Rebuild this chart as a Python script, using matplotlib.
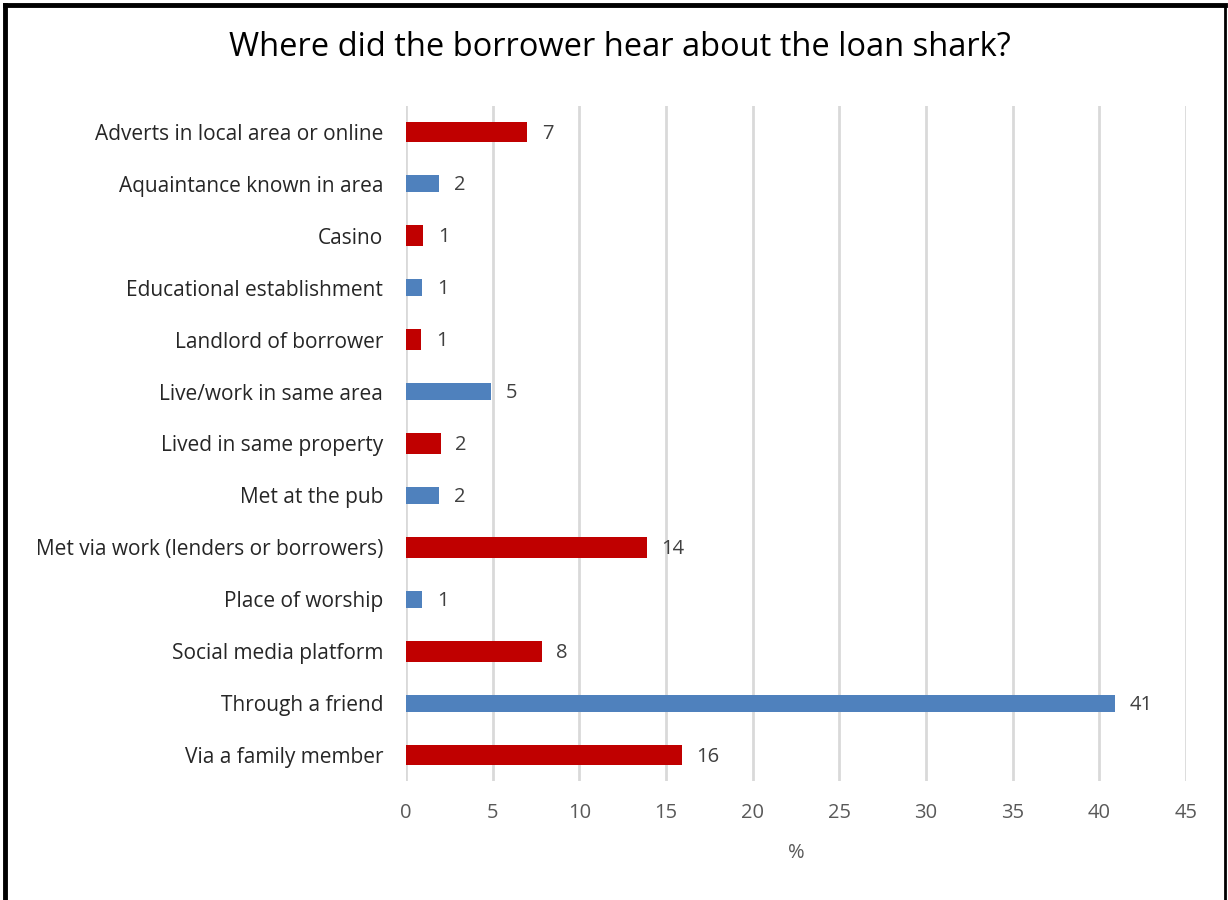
import matplotlib.pyplot as plt
from matplotlib.lines import Line2D

# === Data ===
categories = [
    'Adverts in local area or online',
    'Aquaintance known in area',
    'Casino',
    'Educational establishment',
    'Landlord of borrower',
    'Live/work in same area',
    'Lived in same property',
    'Met at the pub',
    'Met via work (lenders or borrowers)',
    'Place of worship',
    'Social media platform',
    'Through a friend',
    'Via a family member',
]
values = [6.98, 1.9, 1.0, 0.95, 0.87, 4.9, 2.0, 1.9, 13.9, 0.95, 7.83, 40.9, 15.9]
labels = ['7', '2', '1', '1', '1', '5', '2', '2', '14', '1', '8', '41', '16']
xticks = [0, 5, 10, 15, 20, 25, 30, 35, 40, 45]

red = '#C00000'
blue = '#4F81BD'

plt.rcParams['font.family'] = ['Open Sans', 'DejaVu Sans']

fig = plt.figure(figsize=(12.28, 9.0), dpi=100)
ax = fig.add_axes([406 / 1228, 1 - 781 / 900, 780 / 1228, (781 - 106) / 900])

# alternating colours, red bars drawn slightly thicker than blue ones
for i, (cat, v, lab) in enumerate(zip(categories, values, labels)):
    is_red = (i % 2 == 0)
    ax.barh(i, v, height=0.40 if is_red else 0.33,
            color=red if is_red else blue, zorder=3)
    ax.text(v + 0.85, i + 0.03, lab, va='center', ha='left',
            fontsize=14.5, color='#404040')

ax.set_ylim(len(categories) - 0.5, -0.5)
ax.set_xlim(0, 45)
ax.set_yticks(range(len(categories)))
ax.set_yticklabels(categories, fontsize=15, color='#262626')
ax.set_xticks(xticks)
ax.set_xticklabels([str(t) for t in xticks], fontsize=14.5, color='#595959')
ax.tick_params(axis='y', length=0, pad=16.5)
ax.tick_params(axis='x', length=0, pad=16)

ax.grid(axis='x', color='#D9D9D9', linewidth=2, zorder=0)
for s in ax.spines.values():
    s.set_visible(False)

ax.set_xlabel('%', fontsize=14.5, color='#595959', labelpad=14)

fig.text(0.505, 1 - 48 / 900, 'Where did the borrower hear about the loan shark?',
         ha='center', va='center', fontsize=23.5, color='#000000')

# black frame (top, left, right)
fig.add_artist(Line2D([5 / 1228, 1225 / 1228], [1 - 5 / 900, 1 - 5 / 900],
                      color='black', linewidth=3.5, transform=fig.transFigure))
fig.add_artist(Line2D([5 / 1228, 5 / 1228], [0, 1 - 5 / 900],
                      color='black', linewidth=3.5, transform=fig.transFigure))
fig.add_artist(Line2D([1225 / 1228, 1225 / 1228], [0, 1 - 5 / 900],
                      color='black', linewidth=2, transform=fig.transFigure))

fig.savefig('out.png', dpi=100)
